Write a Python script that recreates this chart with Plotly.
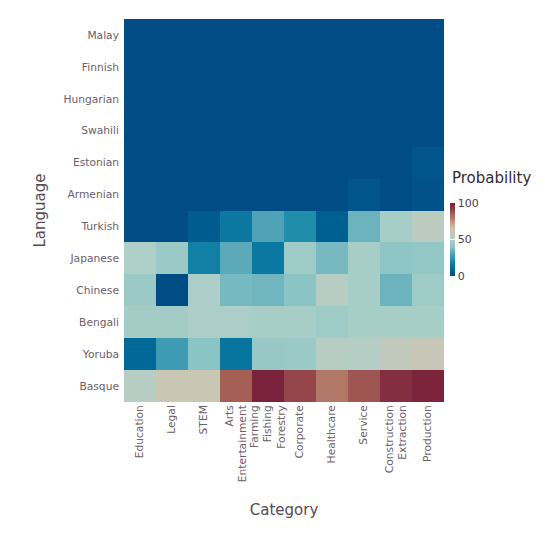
import plotly.graph_objects as go

# categories along x, languages along y (top to bottom)
categories = ["Education", "Legal", "STEM", "Arts<br>Entertainment", "Farming<br>Fishing<br>Forestry",
              "Corporate", "Healthcare", "Service", "Construction<br>Extraction", "Production"]
languages = ["Malay", "Finnish", "Hungarian", "Swahili", "Estonian", "Armenian",
             "Turkish", "Japanese", "Chinese", "Bengali", "Yoruba", "Basque"]

# probability (%) per language, one value per category
malay     = [0, 0, 0, 0, 0, 0, 0, 0, 0, 0]
finnish   = [0, 0, 0, 0, 0, 0, 0, 0, 0, 0]
hungarian = [0, 0, 0, 0, 0, 0, 0, 0, 0, 0]
swahili   = [0, 0, 0, 0, 0, 0, 0, 0, 0, 0]
estonian  = [0, 0, 0, 0, 0, 0, 0, 0, 0, 3]
armenian  = [0, 0, 0, 0, 0, 0, 0, 3, 0, 2]
turkish   = [0, 0, 5, 15, 30, 22, 7, 35, 48, 55]
japanese  = [50, 45, 18, 32, 15, 46, 37, 48, 42, 43]
chinese   = [45, 0, 49, 37, 36, 41, 53, 48, 35, 46]
bengali   = [47, 47, 49, 49, 48, 48, 46, 48, 48, 48]
yoruba    = [10, 27, 41, 14, 44, 45, 53, 52, 57, 60]
basque    = [53, 62, 62, 85, 100, 90, 80, 87, 96, 99]

z = [malay, finnish, hungarian, swahili, estonian, armenian,
     turkish, japanese, chinese, bengali, yoruba, basque]

scale = [
    [0.00, "rgb(0,76,133)"],
    [0.10, "rgb(0,105,152)"],
    [0.20, "rgb(20,135,168)"],
    [0.30, "rgb(80,163,182)"],
    [0.40, "rgb(135,195,196)"],
    [0.50, "rgb(175,208,200)"],
    [0.58, "rgb(195,200,186)"],
    [0.65, "rgb(205,196,175)"],
    [0.75, "rgb(190,145,120)"],
    [0.85, "rgb(165,95,85)"],
    [0.93, "rgb(140,55,68)"],
    [1.00, "rgb(122,33,60)"],
]

font = "DejaVu Sans"

fig = go.Figure(go.Heatmap(
    z=z, x=categories, y=languages,
    zmin=0, zmax=100, colorscale=scale,
    colorbar=dict(
        thickness=5, len=73, lenmode="pixels",
        x=1.02, xanchor="left", xpad=0,
        y=0.424, yanchor="middle", ypad=0,
        outlinewidth=0,
        tickvals=[0, 50, 100], ticks="inside", ticklen=5,
        tickcolor="white", tickwidth=1,
        tickfont=dict(family=font, size=11, color="#4c404b"),
    ),
))

# colour key title, placed like the original
fig.add_annotation(
    text="Probability", xref="paper", yref="paper",
    x=1.0, y=0.585, xanchor="left", yanchor="middle", xshift=6,
    showarrow=False, font=dict(family=font, size=15, color="#362a35"),
)

fig.update_layout(
    width=537, height=537,
    margin=dict(l=116, r=101, t=11, b=143),
    paper_bgcolor="white", plot_bgcolor="white",
    font=dict(family=font),
)
fig.update_xaxes(
    title=dict(text="Category", font=dict(size=15, color="#564a55"), standoff=23),
    tickangle=-90, tickfont=dict(size=10.7, color="#6c606b"),
    showgrid=False, zeroline=False, ticks="",
)
fig.update_yaxes(
    title=dict(text="Language", font=dict(size=15, color="#564a55"), standoff=14),
    autorange="reversed", tickfont=dict(size=10.7, color="#6c606b"),
    ticklabelstandoff=4,
    showgrid=False, zeroline=False, ticks="",
)

fig.write_html("out.html")
